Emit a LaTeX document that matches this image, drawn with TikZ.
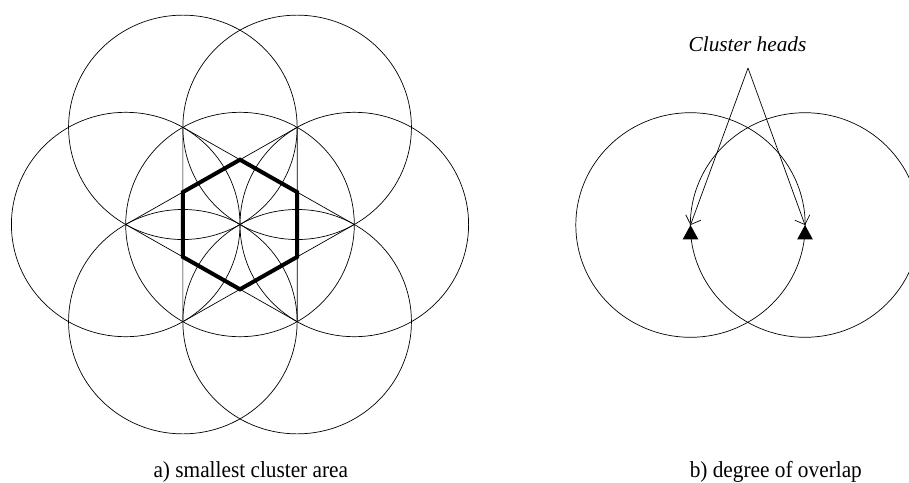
\documentclass[tikz,border=0pt]{standalone}
\usepackage{fontspec}
\setmainfont{Liberation Serif}
\usetikzlibrary{arrows.meta,calc}
\begin{document}
\begin{tikzpicture}[x=1pt,y=-1pt,
  thinline/.style={line width=0.7pt},
  hexline/.style={line width=4pt, line join=miter},
  captionstyle/.style={font=\fontsize{21.3}{25}\selectfont, inner sep=0pt, anchor=base},
  headmark/.style={fill=black, draw=none},
  fan/.style={thinline, -{Straight Barb[length=7.5pt,width=16pt]}}]
\useasboundingbox (0,0) rectangle (909,482);
\clip (0,0) rectangle (909,482);
% ---------- left figure ----------
\coordinate (O) at (240,224.5);
\foreach \k in {0,...,5} {
  \coordinate (P\k) at ([shift={(O)}] \k*60:114.3pt and 112.2pt);
  \coordinate (H\k) at ([shift={(O)}] 30+\k*60:66pt and 64.8pt);
}
\draw[thinline] (O) ellipse [x radius=114.3pt, y radius=112.2pt];
\foreach \k in {0,...,5} {
  \draw[thinline] (P\k) ellipse [x radius=114.3pt, y radius=112.2pt];
}
\draw[thinline] (P0) -- (P2) -- (P4) -- cycle;
\draw[thinline] (P1) -- (P3) -- (P5) -- cycle;
\draw[hexline] (H0) -- (H1) -- (H2) -- (H3) -- (H4) -- (H5) -- cycle;
\node[captionstyle] (capa) at (250.8,477.5) {\scalebox{1}[1.08]{a) smallest cluster area}};
% ---------- right figure ----------
\coordinate (C1) at (690.5,225);
\coordinate (C2) at (805,225);
\draw[thinline] (C1) ellipse [x radius=114.7pt, y radius=112.3pt];
\draw[thinline] (C2) ellipse [x radius=114.7pt, y radius=112.3pt];
\fill[headmark] (C1) -- ++(-7.8,14.3) -- ++(15.6,0) -- cycle;
\fill[headmark] (C2) -- ++(-7.8,14.3) -- ++(15.6,0) -- cycle;
\node[captionstyle, font={\fontsize{21.3}{25}\selectfont\itshape}] (heads) at (747.5,51.7) {Cluster heads};
\coordinate (F) at (748,68);
\draw[fan] (F) -- (C1);
\draw[fan] (F) -- (C2);
\node[captionstyle] (capb) at (775.8,477.5) {\scalebox{1}[1.08]{b) degree of overlap}};
\end{tikzpicture}
\end{document}
